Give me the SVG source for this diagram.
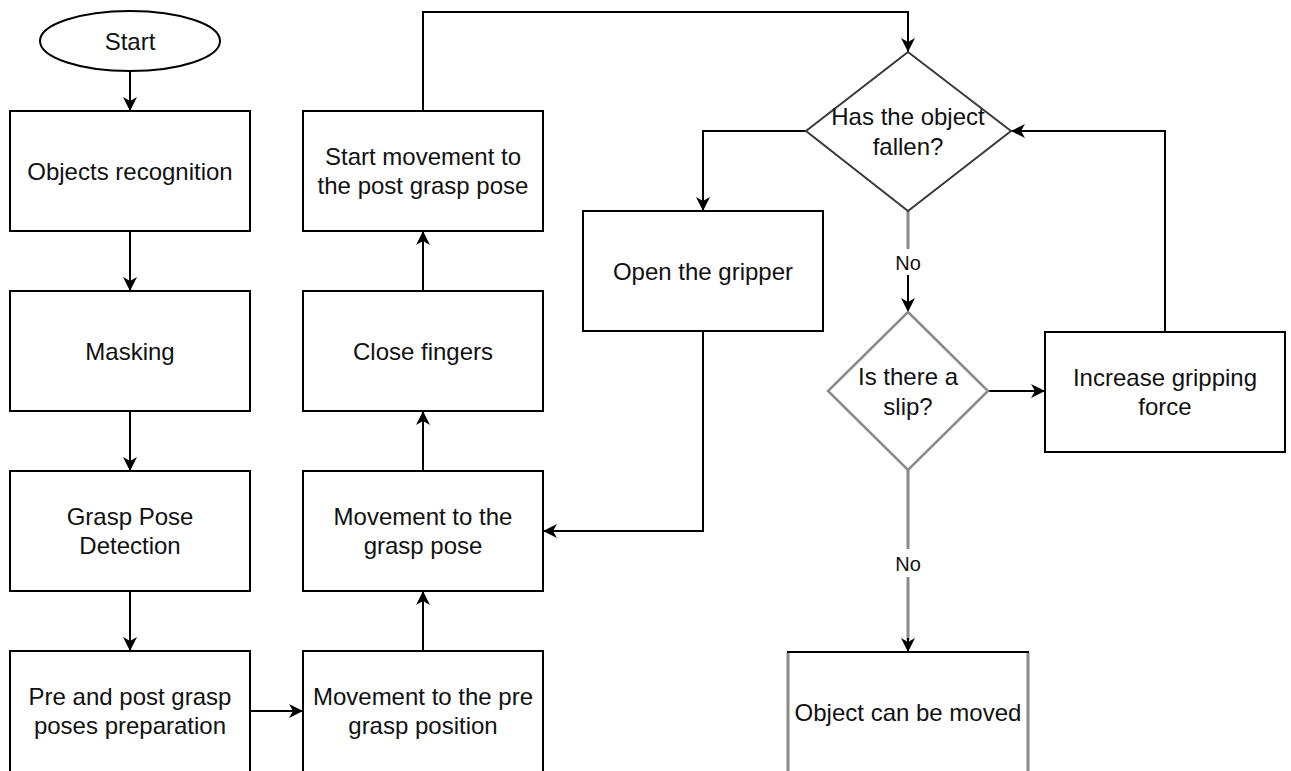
<svg xmlns="http://www.w3.org/2000/svg" width="1291" height="771" viewBox="0 0 1291 771">
  <style>
    .box { fill: #ffffff; stroke: #000000; stroke-width: 2; }
    .gray { fill: none; stroke: #8a8a8a; stroke-width: 3; }
    .dia1 { fill: #ffffff; stroke: #3a3a3a; stroke-width: 2; }
    .dia2 { fill: #ffffff; stroke: #8a8a8a; stroke-width: 2.5; }
    .lbl { font-family: "Liberation Sans", Arial, sans-serif; font-size: 24px; fill: #111111; text-anchor: middle; }
    .edge-lbl { font-family: "Liberation Sans", Arial, sans-serif; font-size: 20px; fill: #111111; text-anchor: middle; }
    .link { fill: none; stroke: #000000; stroke-width: 2; }
    .link-gray { fill: none; stroke: #8a8a8a; stroke-width: 3; }
  </style>
  <defs>
    <marker id="arrow" viewBox="0 0 16 16" refX="15" refY="8" markerWidth="16" markerHeight="16" markerUnits="userSpaceOnUse" orient="auto">
      <path d="M1,1 L15,8 L1,15 L5,8 Z" fill="#000000"/>
    </marker>
  </defs>

  <rect width="1291" height="771" fill="#ffffff"/>

  <!-- connectors -->
  <g id="connectors">
    <path class="link" d="M130,71 L130,111" marker-end="url(#arrow)"/>
    <path class="link" d="M130,231 L130,291" marker-end="url(#arrow)"/>
    <path class="link" d="M130,411 L130,471" marker-end="url(#arrow)"/>
    <path class="link" d="M130,591 L130,651" marker-end="url(#arrow)"/>
    <path class="link" d="M250,711 L303,711" marker-end="url(#arrow)"/>
    <path class="link" d="M423,651 L423,591" marker-end="url(#arrow)"/>
    <path class="link" d="M423,471 L423,411" marker-end="url(#arrow)"/>
    <path class="link" d="M423,291 L423,231" marker-end="url(#arrow)"/>
    <path class="link" d="M423,111 L423,12 L908,12 L908,52" marker-end="url(#arrow)"/>
    <path class="link" d="M806,131 L703,131 L703,211" marker-end="url(#arrow)"/>
    <path class="link" d="M703,331 L703,531 L543,531" marker-end="url(#arrow)"/>
    <!-- fallen? -> slip? (No) -->
    <path class="link-gray" d="M908,211 L908,249"/>
    <path class="link" d="M908,275 L908,312" marker-end="url(#arrow)"/>
    <text class="edge-lbl" x="908" y="270">No</text>
    <path class="link" d="M988,391 L1045,391" marker-end="url(#arrow)"/>
    <path class="link" d="M1165,332 L1165,131 L1011,131" marker-end="url(#arrow)"/>
    <!-- slip? -> moved (No) -->
    <path class="link-gray" d="M908,470 L908,549"/>
    <path class="link-gray" d="M908,577 L908,640"/>
    <path class="link" d="M908,638 L908,652" marker-end="url(#arrow)"/>
    <text class="edge-lbl" x="908" y="571">No</text>
  </g>

  <!-- left column -->
  <g id="start">
    <ellipse class="box" cx="130" cy="41" rx="90" ry="30"/>
    <text class="lbl" x="130" y="50">Start</text>
  </g>
  <g id="objects-recognition">
    <rect class="box" x="10" y="111" width="240" height="120"/>
    <text class="lbl" x="130" y="180">Objects recognition</text>
  </g>
  <g id="masking">
    <rect class="box" x="10" y="291" width="240" height="120"/>
    <text class="lbl" x="130" y="360">Masking</text>
  </g>
  <g id="grasp-pose-detection">
    <rect class="box" x="10" y="471" width="240" height="120"/>
    <text class="lbl" x="130" y="525">Grasp Pose</text>
    <text class="lbl" x="130" y="554">Detection</text>
  </g>
  <g id="poses-preparation">
    <rect class="box" x="10" y="651" width="240" height="125"/>
    <text class="lbl" x="130" y="705">Pre and post grasp</text>
    <text class="lbl" x="130" y="734">poses preparation</text>
  </g>

  <!-- second column -->
  <g id="post-grasp-movement">
    <rect class="box" x="303" y="111" width="240" height="120"/>
    <text class="lbl" x="423" y="165">Start movement to</text>
    <text class="lbl" x="423" y="194">the post grasp pose</text>
  </g>
  <g id="close-fingers">
    <rect class="box" x="303" y="291" width="240" height="120"/>
    <text class="lbl" x="423" y="360">Close fingers</text>
  </g>
  <g id="grasp-pose-movement">
    <rect class="box" x="303" y="471" width="240" height="120"/>
    <text class="lbl" x="423" y="525">Movement to the</text>
    <text class="lbl" x="423" y="554">grasp pose</text>
  </g>
  <g id="pre-grasp-movement">
    <rect class="box" x="303" y="651" width="240" height="125"/>
    <text class="lbl" x="423" y="705">Movement to the pre</text>
    <text class="lbl" x="423" y="734">grasp position</text>
  </g>

  <!-- right side -->
  <g id="open-gripper">
    <rect class="box" x="583" y="211" width="240" height="120"/>
    <text class="lbl" x="703" y="280">Open the gripper</text>
  </g>
  <g id="object-fallen">
    <polygon class="dia1" points="908,52 1011,131 908,211 806,131"/>
    <text class="lbl" x="908" y="125">Has the object</text>
    <text class="lbl" x="908" y="155">fallen?</text>
  </g>
  <g id="slip-check">
    <polygon class="dia2" points="908,312 988,391 908,470 828,391"/>
    <text class="lbl" x="908" y="385">Is there a</text>
    <text class="lbl" x="908" y="415">slip?</text>
  </g>
  <g id="increase-force">
    <rect class="box" x="1045" y="332" width="240" height="120"/>
    <text class="lbl" x="1165" y="386">Increase gripping</text>
    <text class="lbl" x="1165" y="415">force</text>
  </g>
  <g id="object-moved">
    <rect x="788" y="652" width="240" height="125" fill="#ffffff"/>
    <path class="gray" d="M788,652 L788,777 M1028,652 L1028,777"/>
    <path d="M787,652 L1029,652" stroke="#000000" stroke-width="2"/>
    <text class="lbl" x="908" y="721">Object can be moved</text>
  </g>
</svg>
